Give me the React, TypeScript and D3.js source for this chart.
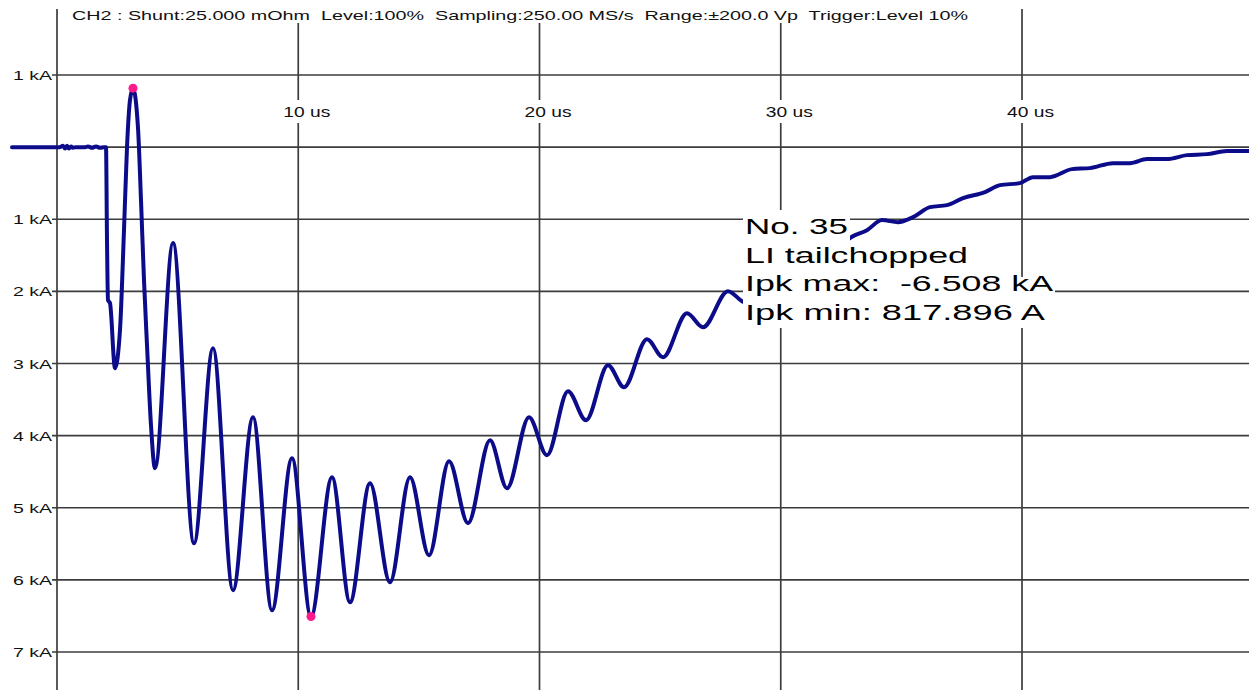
import React from "react";
import * as d3 from "d3";

const W = 1249;
const H = 690;

// Trace samples: time (us) and current (kA)
const timeUs = [
  -1.865, 0.124, 0.249, 0.332, 0.415, 0.497, 0.58, 0.663, 0.788, 1.161, 1.285, 1.451, 1.617, 1.782, 1.948, 2.031,
  2.073, 2.114, 2.197, 2.404, 2.611, 2.777, 2.902, 3.026, 3.15, 3.358, 3.482, 3.606, 3.731, 3.896,
  4.062, 4.808, 5.679, 6.466, 7.295, 8.124, 8.912, 9.741, 10.528, 11.399, 12.145, 12.974, 13.803,
  14.632, 15.42, 16.249, 17.036, 17.948, 18.653, 19.565, 20.311, 21.181, 21.927, 22.839, 23.503,
  24.456, 25.119, 26.114, 26.777, 27.813, 28.394, 28.56, 29.472, 30.176, 31.13, 31.752,
  32.995, 33.575, 34.197, 34.86, 35.482, 36.187, 36.891, 37.554, 38.466, 39.088, 39.917, 40.456,
  41.161, 42.073, 42.819, 43.772, 44.477, 45.181, 46.01, 46.839, 47.668, 48.497, 49.409,
];
const currentKA = [
  0, 0, 0.02, -0.02, 0.02, -0.02, 0.01, -0.01, 0, 0, 0.01, -0.01, 0.01, -0.01, 0, 0,
  -1.29, -2.122, -2.164, -3.065, -2.538, -1.151, 0, 0.652, 0.818, 0.263, -0.735, -1.845, -2.746, -3.856,
  -4.452, -1.331, -5.492, -2.788, -6.144, -3.745, -6.422, -4.313, -6.508, -4.577, -6.311, -4.66, -6.033,
  -4.577, -5.659, -4.355, -5.215, -4.064, -4.73, -3.745, -4.272, -3.384, -3.786, -3.024, -3.329,
  -2.663, -2.913, -2.302, -2.497, -1.997, -2.136, -2.164, -1.706, -1.789, -1.456, -1.512,
  -1.234, -1.151, -1.012, -1.04, -0.971, -0.832, -0.804, -0.707, -0.624, -0.527, -0.499, -0.416,
  -0.416, -0.305, -0.291, -0.222, -0.222, -0.166, -0.166, -0.111, -0.097, -0.055, -0.055,
];

// Marked extremes
const markerTimes = [3.15, 10.528];
const markerValues = [0.818, -6.508];

// Axes
const yTicks = [1, 0, -1, -2, -3, -4, -5, -6, -7];
const yTickLabels = ["1 kA", "", "1 kA", "2 kA", "3 kA", "4 kA", "5 kA", "6 kA", "7 kA"];
const xTicks = [0, 10, 20, 30, 40];
const xTickLabels = ["", "10 us", "20 us", "30 us", "40 us"];

const headerText =
  "CH2 : Shunt:25.000 mOhm  Level:100%  Sampling:250.00 MS/s  Range:\u00b1200.0 Vp  Trigger:Level 10%";
const infoLines = ["No. 35", "LI tailchopped", "Ipk max:  -6.508 kA", "Ipk min: 817.896 A"];
const infoWidths = [103, 223, 308, 300];

const FONT = "'Liberation Sans', Arial, Helvetica, sans-serif";

export default function App() {
  const x = d3.scaleLinear().domain([0, 40]).range([57, 1022]);
  const y = d3.scaleLinear().domain([1, -7]).range([75, 652]);

  const pts: [number, number][] = timeUs.map((t, i) => [t, currentKA[i]]);
  const line = d3
    .line<[number, number]>()
    .x((d) => x(d[0]))
    .y((d) => y(d[1]))
    .curve(d3.curveMonotoneX);

  const infoX = 745;
  const infoBaselines = [234, 263, 291, 320];
  const infoBoxes = [
    [210, 243],
    [243, 277],
    [277, 305],
    [305, 328],
  ];

  return (
    <svg
      width={W}
      height={H}
      style={{ position: "absolute", left: 0, top: 0, background: "#fff" }}
    >
      <rect x={0} y={0} width={W} height={H} fill="#fff" />
      {/* horizontal gridlines */}
      {yTicks.map((v) => (
        <line key={"h" + v} x1={52} x2={W} y1={y(v)} y2={y(v)} stroke="#3c3c3c" strokeWidth={1.7} />
      ))}
      {/* vertical gridlines */}
      {xTicks.map((v) => (
        <line key={"v" + v} x1={x(v)} x2={x(v)} y1={9} y2={H} stroke="#3c3c3c" strokeWidth={1.7} />
      ))}
      {/* y labels */}
      {yTicks.map((v, i) =>
        yTickLabels[i] ? (
          <text
            key={"yl" + v}
            x={52}
            y={y(v) + 5}
            textAnchor="end"
            fontFamily={FONT}
            fontSize={13.5}
            fill="#111"
            textLength={39}
            lengthAdjust="spacingAndGlyphs"
          >
            {yTickLabels[i]}
          </text>
        ) : null
      )}
      {/* x labels with white background */}
      {xTicks.map((v, i) =>
        xTickLabels[i] ? (
          <g key={"xl" + v}>
            <rect x={x(v) - 17} y={100} width={51} height={23} fill="#fff" />
            <text
              x={x(v) - 15}
              y={117}
              fontFamily={FONT}
              fontSize={14}
              fill="#111"
              textLength={47}
              lengthAdjust="spacingAndGlyphs"
            >
              {xTickLabels[i]}
            </text>
          </g>
        ) : null
      )}
      {/* header */}
      <rect x={68} y={4} width={904} height={19} fill="#fff" />
      <text
        x={72}
        y={19.5}
        fontFamily={FONT}
        fontSize={13.5}
        fill="#111"
        textLength={896}
        lengthAdjust="spacingAndGlyphs"
        style={{ whiteSpace: "pre" }}
      >
        {headerText}
      </text>
      {/* trace */}
      <path
        d={line(pts) || ""}
        fill="none"
        stroke="#0c0c8a"
        strokeWidth={4}
        strokeLinejoin="round"
        strokeLinecap="round"
      />
      {/* markers */}
      {markerTimes.map((t, i) => (
        <circle key={"m" + i} cx={x(t)} cy={y(markerValues[i])} r={4.5} fill="#ff1a8c" />
      ))}
      {/* info block */}
      {infoLines.map((s, i) => (
        <g key={"info" + i}>
          <rect
            x={743}
            y={infoBoxes[i][0]}
            width={infoWidths[i] + 4}
            height={infoBoxes[i][1] - infoBoxes[i][0]}
            fill="#fff"
          />
          <text
            x={infoX}
            y={infoBaselines[i]}
            fontFamily={FONT}
            fontSize={22}
            fill="#000"
            textLength={infoWidths[i]}
            lengthAdjust="spacingAndGlyphs"
            style={{ whiteSpace: "pre" }}
          >
            {s}
          </text>
        </g>
      ))}
    </svg>
  );
}
